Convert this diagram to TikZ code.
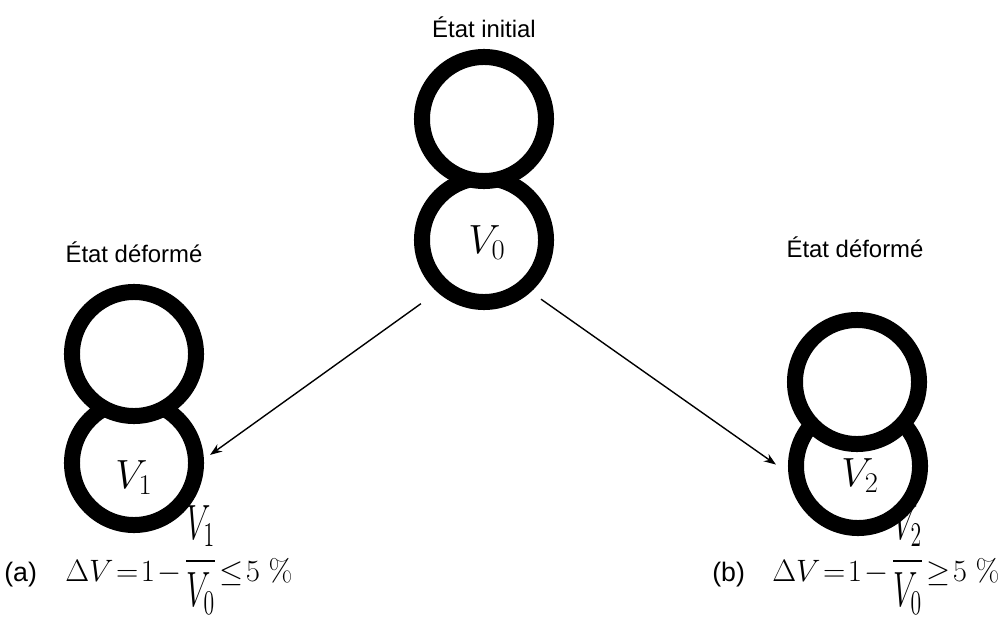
\RequirePackage{fix-cm}
\documentclass[tikz,border=0pt]{standalone}
\usepackage[no-math]{fontspec}
\setmainfont{Liberation Sans}
\usepackage{amsmath}
\usetikzlibrary{arrows.meta, positioning}
\tikzset{
    ring/.style={circle, draw=black, line width=0.4cm, fill=white, minimum size=3.1cm, inner sep=0pt},
    title/.style={anchor=base, font=\fontsize{17}{20}\selectfont},
    vol/.style={font=\fontsize{29}{34}\selectfont},
    tag/.style={anchor=base west, inner sep=0pt, font=\fontsize{19}{22}\selectfont},
    formula/.style={anchor=base west, inner sep=0pt, font=\fontsize{22}{26}\selectfont},
    arrow/.style={-{Stealth[length=0.3cm, width=0.22cm]}, line width=0.035cm}
}
% stretched ratio of volumes
\newcommand{\volratio}[2]{\raisebox{5.7pt}{\scalebox{1}[1.6]{$\dfrac{V_{#1}}{V_{#2}}$}}}

\begin{document}
\begin{tikzpicture}[x=0.025cm, y=-0.025cm]
    \useasboundingbox (0,0) rectangle (1005,617);

    % --- INITIAL STATE ---
    \node[ring] (c0b) at (484,240) {};
    \node[ring] (c0t) at (484,119) {};
    \node[title] (t0) at (484,38) {État initial};
    \node[vol] (v0) at (487,243) {$V_0$};

    % --- DEFORMED STATE (a) ---
    \node[ring] (c1b) at (134,463) {};
    \node[ring] (c1t) at (134,354) {};
    \node[title] (t1) at (134,262) {État déformé};
    \node[vol] (v1) at (134,478) {$V_1$};

    % --- DEFORMED STATE (b) ---
    \node[ring] (c2b) at (858,466) {};
    \node[ring] (c2t) at (857,382) {};
    \node[title] (t2) at (855,257) {État déformé};
    \node[vol] (v2) at (860,476) {$V_2$};

    \draw[arrow, shorten <=0.5cm, shorten >=0.19cm] (c0b.228) -- (c1b.3);
    \draw[arrow, shorten <=0.31cm, shorten >=0.38cm] (c0b.312) -- (c2b.186);

    % Volume change
    \node[tag] (tagA) at (4,581) {(a)};
    \node[formula] (eqA) at (65,581) {\thickmuskip=1.5mu \medmuskip=1.5mu $\Delta V = 1-\volratio{1}{0} \leq 5~\%$};
    \node[tag] (tagB) at (712,581) {(b)};
    \node[formula] (eqB) at (772,581) {\thickmuskip=1.5mu \medmuskip=1.5mu $\Delta V = 1-\volratio{2}{0} \geq 5~\%$};
\end{tikzpicture}
\end{document}
